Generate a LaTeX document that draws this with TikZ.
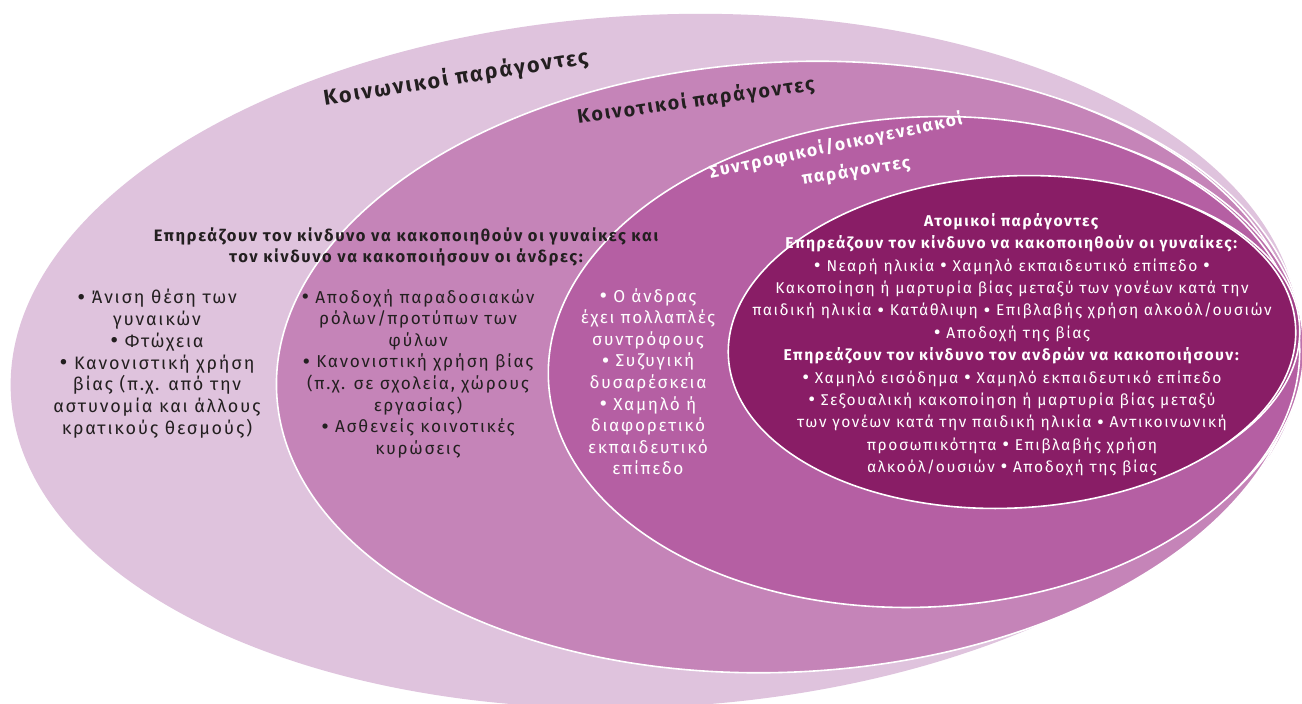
\documentclass[tikz,border=0pt]{standalone}
\usepackage{graphicx}
\usepackage{fontspec}
\setmainfont{Fira Sans}[LetterSpace=10]
% a slightly larger list bullet
\newcommand\bul{\raisebox{-0.15ex}{\scalebox{1.35}{•}}}
\begin{document}
\begin{tikzpicture}[x=1pt,y=-1pt,
  ring/.style={draw=white,line width=1.6pt},
  layertitle/.style={font=\fontsize{20}{22}\selectfont\bfseries,align=center,inner sep=0pt},
  body/.style={font=\fontsize{17.2}{21.6}\selectfont,align=center,inner sep=0pt},
  bodyb/.style={font=\fontsize{15.6}{22.4}\selectfont,align=center,inner sep=0pt},
  dark/.style={text=inkdark},
  light/.style={text=white}]
\definecolor{socialc}{HTML}{DFC3DD}
\definecolor{commc}{HTML}{C584B8}
\definecolor{famc}{HTML}{B55FA3}
\definecolor{indc}{HTML}{891D66}
\definecolor{inkdark}{HTML}{231F20}
\path[use as bounding box,clip] (0,0) rectangle (1302,704);
\fill[white] (0,0) rectangle (1302,704);

% nested layers of factors, each with a pale rim on its right side
\fill[socialc,rotate around={3:(655,361)}] (655,361) ellipse [x radius=645pt,y radius=346pt];
\filldraw[fill=commc!55!socialc,ring,rotate around={3:(796,365)}] (796,365) ellipse [x radius=508pt,y radius=300pt];
\filldraw[fill=commc,ring,rotate around={3:(788,367)}] (788,367) ellipse [x radius=512pt,y radius=305pt];
\filldraw[fill=famc!55!commc,ring,rotate around={3:(934,360)}] (934,360) ellipse [x radius=370pt,y radius=240pt];
\filldraw[fill=famc,ring,rotate around={3:(924,362)}] (924,362) ellipse [x radius=376pt,y radius=245pt];
\filldraw[fill=indc!45!famc,ring,rotate around={3:(1022,341)}] (1022,341) ellipse [x radius=278pt,y radius=162pt];
\filldraw[fill=indc,ring,rotate around={3:(1012,342)}] (1012,342) ellipse [x radius=284pt,y radius=166pt];

% layer titles
\node[layertitle,dark,rotate=9,font=\fontsize{21.5}{23}\selectfont\bfseries] (tsoc) at (456,78) {Κοινωνικοί παράγοντες};
\node[layertitle,dark,rotate=8,font=\fontsize{19.6}{22}\selectfont\bfseries] (tcomm) at (696,101) {Κοινοτικοί παράγοντες};
\node[layertitle,light,rotate=12,font=\fontsize{17.5}{20}\selectfont\bfseries] (tfam) at (836,146) {Συντροφικοί/οικογενειακοί};
\node[layertitle,light,rotate=9,font=\fontsize{17.5}{20}\selectfont\bfseries] (tfamb) at (856,171) {παράγοντες};

% shared heading
\node[body,dark,font=\fontsize{16.5}{20.5}\selectfont\bfseries] (shared) at (406,247)
  {Επηρεάζουν τον κίνδυνο να κακοποιηθούν οι γυναίκες και\\τον κίνδυνο να κακοποιήσουν οι άνδρες:};

% societal factors
\node[body,dark,anchor=north,font=\fontsize{18}{21.8}\selectfont] (socl) at (157,289)
  {\bul{} Άνιση θέση των\\γυναικών\\\bul{} Φτώχεια\\\bul{} Κανονιστική χρήση\\βίας (π.χ. από την\\αστυνομία και άλλους\\κρατικούς θεσμούς)};

% community factors
\node[body,dark,anchor=north] (comml) at (418,289)
  {\bul{} Αποδοχή παραδοσιακών\\ρόλων/προτύπων των\\φύλων\\\bul{} Κανονιστική χρήση βίας\\(π.χ. σε σχολεία, χώρους\\εργασίας)\\\bul{} Ασθενείς κοινοτικές\\κυρώσεις};

% relationship / family factors
\node[body,light,anchor=north] (faml) at (648,288)
  {\bul{} Ο άνδρας\\έχει πολλαπλές\\συντρόφους\\\bul{} Συζυγική\\δυσαρέσκεια\\\bul{} Χαμηλό ή\\διαφορετικό\\εκπαιδευτικό\\επίπεδο};

% individual factors
\node[bodyb,light,anchor=north] (indl) at (1012,213)
  {\textbf{Ατομικοί παράγοντες}\\
   \textbf{Επηρεάζουν τον κίνδυνο να κακοποιηθούν οι γυναίκες:}\\
   \bul{} Νεαρή ηλικία \bul{} Χαμηλό εκπαιδευτικό επίπεδο \bul\\
   Κακοποίηση ή μαρτυρία βίας μεταξύ των γονέων κατά την\\
   παιδική ηλικία \bul{} Κατάθλιψη \bul{} Επιβλαβής χρήση αλκοόλ/ουσιών\\
   \bul{} Αποδοχή της βίας\\
   \textbf{Επηρεάζουν τον κίνδυνο τον ανδρών να κακοποιήσουν:}\\
   \bul{} Χαμηλό εισόδημα \bul{} Χαμηλό εκπαιδευτικό επίπεδο\\
   \bul{} Σεξουαλική κακοποίηση ή μαρτυρία βίας μεταξύ\\
   των γονέων κατά την παιδική ηλικία \bul{} Αντικοινωνική\\
   προσωπικότητα \bul{} Επιβλαβής χρήση\\
   αλκοόλ/ουσιών \bul{} Αποδοχή της βίας};
\end{tikzpicture}
\end{document}
